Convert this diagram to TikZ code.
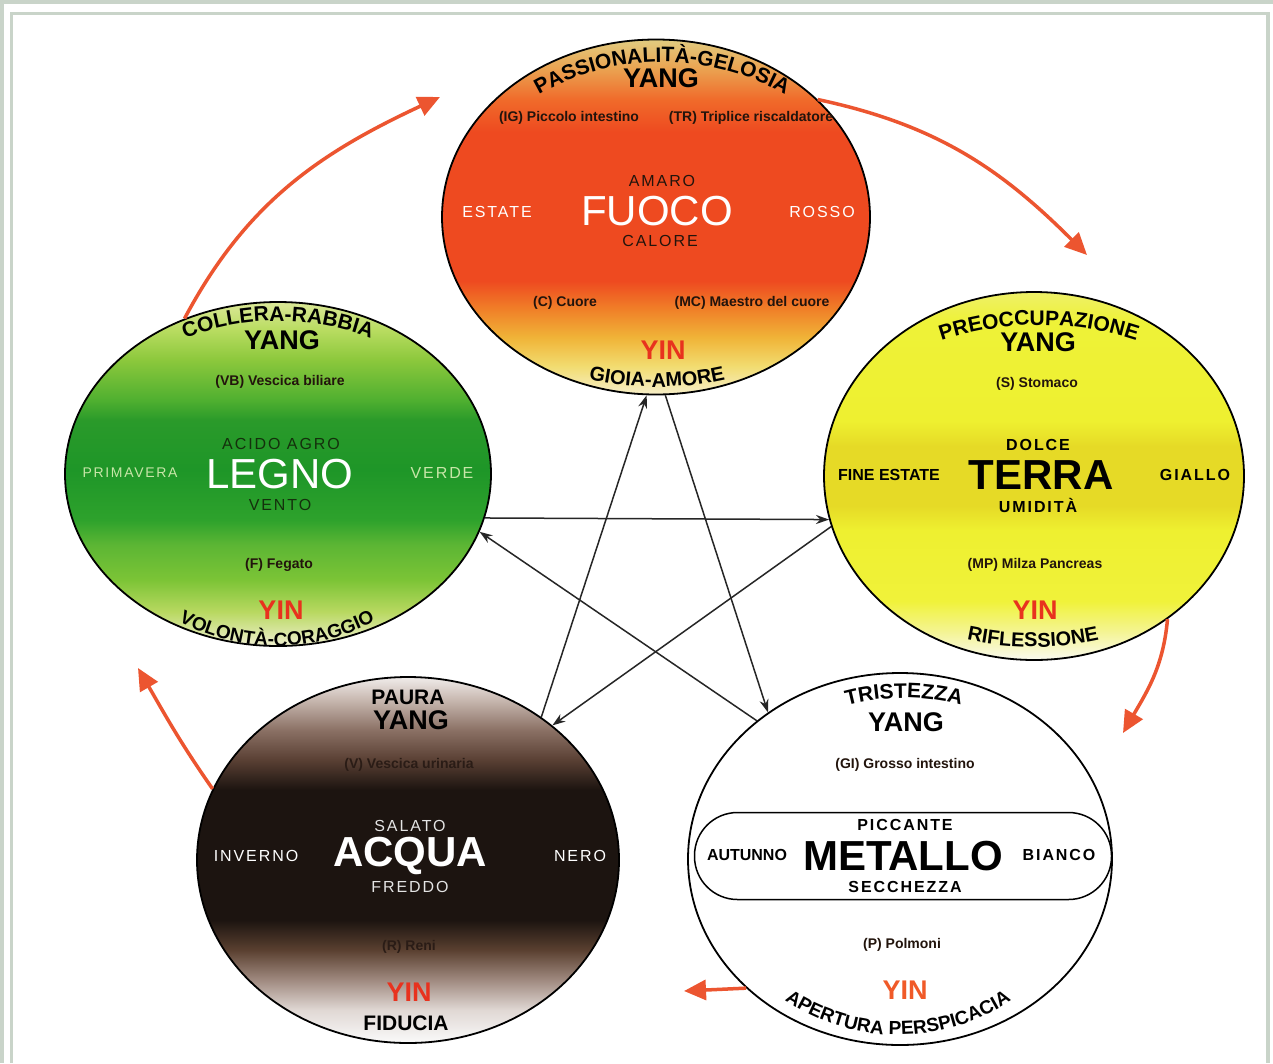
\documentclass[tikz,border=0pt]{standalone}
\usepackage{fontspec}
\setmainfont{Liberation Sans}
\newfontfamily\largo[LetterSpace=12]{Liberation Sans}
\usetikzlibrary{arrows.meta,shapes.geometric,decorations.text}

\definecolor{cornice}{HTML}{C9D4C9}
\definecolor{frecciarossa}{HTML}{EC5530}
\definecolor{yinrosso}{HTML}{E8321E}
\definecolor{metalloyin}{HTML}{F05A28}
\definecolor{scuro}{HTML}{22140C}
\definecolor{legnoscuro}{HTML}{14300C}
\definecolor{legnochiaro}{HTML}{C8E6A8}
\definecolor{acquachiaro}{HTML}{E4E4E4}
\definecolor{acquaorgano}{HTML}{2A1C16}
% fuoco
\definecolor{fuocoA}{HTML}{F6EEC8}
\definecolor{fuocoB}{HTML}{F2DC70}
\definecolor{fuocoC}{HTML}{F0B438}
\definecolor{fuocoD}{HTML}{F08028}
\definecolor{fuocoE}{HTML}{EE4A20}
\definecolor{fuocoF}{HTML}{F06A2A}
\definecolor{fuocoG}{HTML}{EAA452}
\definecolor{fuocoH}{HTML}{E2CC80}
% legno
\definecolor{legnoA}{HTML}{F0F0D0}
\definecolor{legnoB}{HTML}{B8D860}
\definecolor{legnoC}{HTML}{7CC436}
\definecolor{legnoD}{HTML}{5CB634}
\definecolor{legnoE}{HTML}{2EA22C}
\definecolor{legnoF}{HTML}{1E9628}
\definecolor{legnoG}{HTML}{2A9A2A}
\definecolor{legnoH}{HTML}{50B030}
\definecolor{legnoI}{HTML}{8CC83C}
\definecolor{legnoJ}{HTML}{B8DC60}
\definecolor{legnoK}{HTML}{DCE898}
% terra
\definecolor{terraA}{HTML}{FAFAF0}
\definecolor{terraB}{HTML}{F4F490}
\definecolor{terraC}{HTML}{F0F23A}
\definecolor{terraD}{HTML}{EEF030}
\definecolor{terraE}{HTML}{E6DA26}
\definecolor{terraF}{HTML}{EEF238}
\definecolor{terraG}{HTML}{EEF068}
% acqua
\definecolor{acquaA}{HTML}{FAFAFA}
\definecolor{acquaB}{HTML}{E0D8D4}
\definecolor{acquaC}{HTML}{A08A80}
\definecolor{acquaD}{HTML}{5A4030}
\definecolor{acquaE}{HTML}{1C1410}
\definecolor{acquaF}{HTML}{5A4034}
\definecolor{acquaG}{HTML}{8A7064}
\definecolor{acquaH}{HTML}{C8B8B0}
\definecolor{acquaI}{HTML}{F0ECEA}

\pgfdeclareverticalshading{fuocograd}{100bp}{color(0bp)=(fuocoA); color(25bp)=(fuocoA);
  color(29bp)=(fuocoB); color(33bp)=(fuocoC); color(37bp)=(fuocoD); color(41bp)=(fuocoE);
  color(62bp)=(fuocoE); color(66.5bp)=(fuocoF); color(71bp)=(fuocoG); color(75bp)=(fuocoH);
  color(100bp)=(fuocoH)}
\pgfdeclareverticalshading{legnograd}{100bp}{color(0bp)=(legnoA); color(25bp)=(legnoA);
  color(30bp)=(legnoB); color(34.6bp)=(legnoC); color(39.7bp)=(legnoD); color(43.3bp)=(legnoE);
  color(50.6bp)=(legnoF); color(57.8bp)=(legnoG); color(60.8bp)=(legnoH); color(66.6bp)=(legnoI);
  color(70.9bp)=(legnoJ); color(75bp)=(legnoK); color(100bp)=(legnoK)}
\pgfdeclareverticalshading{terragrad}{100bp}{color(0bp)=(terraA); color(25bp)=(terraA);
  color(29bp)=(terraB); color(33bp)=(terraC); color(42.6bp)=(terraD); color(46bp)=(terraE);
  color(54bp)=(terraE); color(57.5bp)=(terraD); color(71bp)=(terraF); color(75bp)=(terraG);
  color(100bp)=(terraG)}
\pgfdeclareverticalshading{acquagrad}{100bp}{color(0bp)=(acquaA); color(25bp)=(acquaA);
  color(29.5bp)=(acquaB); color(33.6bp)=(acquaC); color(37.7bp)=(acquaD); color(41.8bp)=(acquaE);
  color(59.6bp)=(acquaE); color(63.7bp)=(acquaF); color(67.7bp)=(acquaG); color(71.9bp)=(acquaH);
  color(75bp)=(acquaI); color(100bp)=(acquaI)}

\tikzset{
  elemento/.style={ellipse, draw=black, line width=1.8pt, inner sep=0pt},
  nome/.style={font=\fontsize{42}{42}\selectfont},
  nomeb/.style={font=\bfseries\fontsize{42}{42}\selectfont},
  qualita/.style={font=\largo\fontsize{16}{16}\selectfont},
  qualitab/.style={font=\largo\bfseries\fontsize{16}{16}\selectfont},
  organo/.style={font=\bfseries\fontsize{14}{14}\selectfont, text=scuro},
  polo/.style={font=\bfseries\fontsize{27}{27}\selectfont},
  yin/.style={polo, text=yinrosso},
  scritta/.style={font=\bfseries\fontsize{21}{21}\selectfont},
  arco/.style={decorate, decoration={text along path, text align=center}},
  genera/.style={-{Triangle[length=22pt,width=20pt]}, line width=3.5pt, draw=frecciarossa},
  controlla/.style={-{Stealth[length=13pt,width=9pt]}, line width=1.5pt, draw=black!85},
}

\begin{document}
\begin{tikzpicture}[x=1pt,y=1pt]
  % Cornice
  \fill[white] (0,0) rectangle (1273,-1063);
  \useasboundingbox (0,0) rectangle (1273,-1063);
  \fill[cornice] (0,0) rectangle (1273,-4);
  \fill[cornice] (0,0) rectangle (3.5,-1063);
  \draw[cornice, line width=3.2pt] (11.5,-1063) |- (1268,-13.5) -- (1268,-1063);

  % Cinque elementi
  \node[elemento, shade, shading=fuocograd, minimum width=428pt, minimum height=355pt] (fuoco) at (656,-217) {};
  \node[elemento, shade, shading=legnograd, minimum width=426pt, minimum height=344pt] (legno) at (278,-474) {};
  \node[elemento, shade, shading=terragrad, minimum width=420pt, minimum height=368pt] (terra) at (1034,-476) {};
  \node[elemento, shade, shading=acquagrad, minimum width=422pt, minimum height=366pt] (acqua) at (408,-860) {};
  \node[elemento, fill=white, minimum width=424pt, minimum height=372pt] (metallo) at (900,-859) {};

  % Fuoco
  \path[arco, decoration={text={|\bfseries\fontsize{21}{21}\selectfont|PASSIONALITÀ-GELOSIA}}]
    (487.3,-134.3) arc[start angle=135, end angle=45, radius=247];
  \node[polo] (fuoco-yang) at (661,-78) {YANG};
  \node[organo] (fuoco-ig) at (569,-118) {(IG) Piccolo intestino};
  \node[organo] (fuoco-tr) at (751,-118) {(TR) Triplice riscaldatore};
  \node[qualita, text=scuro] (fuoco-sapore) at (662,-181) {AMARO};
  \node[nome, text=white] (fuoco-nome) at (657,-211) {FUOCO};
  \node[qualita, text=scuro] (fuoco-clima) at (660,-241) {CALORE};
  \node[qualita, text=white] (fuoco-stagione) at (497,-212) {ESTATE};
  \node[qualita, text=white] (fuoco-colore) at (822,-212) {ROSSO};
  \node[organo] (fuoco-c) at (565,-303) {(C) Cuore};
  \node[organo] (fuoco-mc) at (752,-303) {(MC) Maestro del cuore};
  \node[yin] (fuoco-yin) at (663,-350) {YIN};
  \path[arco, decoration={text={|\bfseries\fontsize{20}{20}\selectfont|GIOIA-AMORE}}]
    (551,-368.3) arc[start angle=250, end angle=290, radius=310];

  % Legno
  \path[arco, decoration={text={|\bfseries\fontsize{21}{21}\selectfont|COLLERA-RABBIA}}]
    (148,-355.8) arc[start angle=120, end angle=60, radius=260];
  \node[polo] (legno-yang) at (282,-340) {YANG};
  \node[organo] (legno-vb) at (280,-382) {(VB) Vescica biliare};
  \node[qualita, text=legnoscuro] (legno-sapore) at (281,-444) {ACIDO AGRO};
  \node[nome, text=white] (legno-nome) at (280,-474) {LEGNO};
  \node[qualita, text=legnoscuro] (legno-clima) at (280,-505) {VENTO};
  \node[qualita, text=legnochiaro, font=\largo\fontsize{14}{14}\selectfont] (legno-stagione) at (130,-473) {PRIMAVERA};
  \node[qualita, text=legnochiaro] (legno-colore) at (442,-473) {VERDE};
  \node[organo] (legno-f) at (279,-565) {(F) Fegato};
  \node[yin] (legno-yin) at (281,-610) {YIN};
  \path[arco, decoration={text={|\bfseries\fontsize{19}{19}\selectfont|VOLONTÀ-CORAGGIO}}]
    (131.3,-585.7) arc[start angle=225, end angle=315, radius=206];

  % Terra
  \path[arco, decoration={text={|\bfseries\fontsize{21}{21}\selectfont|PREOCCUPAZIONE}}]
    (908.8,-353.9) arc[start angle=115, end angle=65, radius=308];
  \node[polo] (terra-yang) at (1038,-342) {YANG};
  \node[organo] (terra-s) at (1037,-384) {(S) Stomaco};
  \node[qualitab] (terra-sapore) at (1038,-445) {DOLCE};
  \node[nomeb] (terra-nome) at (1041,-475) {TERRA};
  \node[qualitab] (terra-clima) at (1038,-505) {UMIDITÀ};
  \node[font=\bfseries\fontsize{16}{16}\selectfont] (terra-stagione) at (889,-475) {FINE ESTATE};
  \node[qualitab] (terra-colore) at (1195,-475) {GIALLO};
  \node[organo] (terra-mp) at (1035,-565) {(MP) Milza Pancreas};
  \node[yin] (terra-yin) at (1035,-610) {YIN};
  \path[arco, decoration={text={|\bfseries\fontsize{20}{20}\selectfont|RIFLESSIONE}}]
    (927,-628.3) arc[start angle=250, end angle=290, radius=310];

  % Acqua
  \node[scritta] (acqua-emozione) at (408,-697) {PAURA};
  \node[polo] (acqua-yang) at (411,-720) {YANG};
  \node[organo, text=acquaorgano] (acqua-v) at (409,-765) {(V) Vescica urinaria};
  \node[qualita, text=acquachiaro] (acqua-sapore) at (410,-826) {SALATO};
  \node[nomeb, text=white] (acqua-nome) at (410,-856) {ACQUA};
  \node[qualita, text=acquachiaro] (acqua-clima) at (410,-887) {FREDDO};
  \node[qualita, text=white] (acqua-stagione) at (256,-856) {INVERNO};
  \node[qualita, text=white] (acqua-colore) at (580,-856) {NERO};
  \node[organo, text=acquaorgano] (acqua-r) at (409,-947) {(R) Reni};
  \node[yin] (acqua-yin) at (409,-992) {YIN};
  \node[scritta] (acqua-virtu) at (406,-1023) {FIDUCIA};

  % Metallo
  \path[arco, decoration={text={|\bfseries\fontsize{21}{21}\selectfont|TRISTEZZA}}]
    (810.6,-718.7) arc[start angle=115, end angle=65, radius=221];
  \node[polo] (metallo-yang) at (906,-722) {YANG};
  \node[organo] (metallo-gi) at (905,-765) {(GI) Grosso intestino};
  \node[draw, line width=1.5pt, rounded corners=43pt, minimum width=417pt, minimum height=87pt] (metallo-fascia) at (903,-856) {};
  \node[qualitab] (metallo-sapore) at (905,-825) {PICCANTE};
  \node[nomeb] (metallo-nome) at (903,-856) {METALLO};
  \node[qualitab] (metallo-clima) at (905,-887) {SECCHEZZA};
  \node[font=\bfseries\fontsize{16}{16}\selectfont] (metallo-stagione) at (747,-855) {AUTUNNO};
  \node[qualitab] (metallo-colore) at (1059,-855) {BIANCO};
  \node[organo] (metallo-p) at (902,-945) {(P) Polmoni};
  \node[yin, text=metalloyin] (metallo-yin) at (905,-990) {YIN};
  \path[arco, decoration={text={|\bfseries\fontsize{19}{19}\selectfont|APERTURA PERSPICACIA}}]
    (731.8,-948.3) arc[start angle=215, end angle=325, radius=203];

  % Ciclo di controllo (stella)
  \draw[controlla] (legno.-12) -- (terra.192);
  \draw[controlla] (terra.194) -- (acqua.43);
  \draw[controlla] (acqua.47) -- (fuoco.267);
  \draw[controlla] (fuoco.273) -- (metallo.132);
  \draw[controlla] (metallo.136) -- (legno.-16);

  % Ciclo di generazione
  \coordinate (fuoco-arrivo) at (440,-97);
  \coordinate (terra-arrivo) at (1087,-255);
  \coordinate (metallo-arrivo) at (1123,-733);
  \coordinate (acqua-arrivo) at (684,-991);
  \coordinate (legno-arrivo) at (138,-668);
  \draw[genera] (legno.121) to[out=62, in=205] (fuoco-arrivo);
  \draw[genera] (fuoco.36) to[out=-12, in=135] (terra-arrivo);
  \draw[genera] (terra.-47) to[out=-95, in=60] (metallo-arrivo);
  \draw[genera] (metallo.220) -- (acqua-arrivo);
  \draw[genera] (acqua.160) to[out=125, in=-60] (legno-arrivo);
\end{tikzpicture}
\end{document}
